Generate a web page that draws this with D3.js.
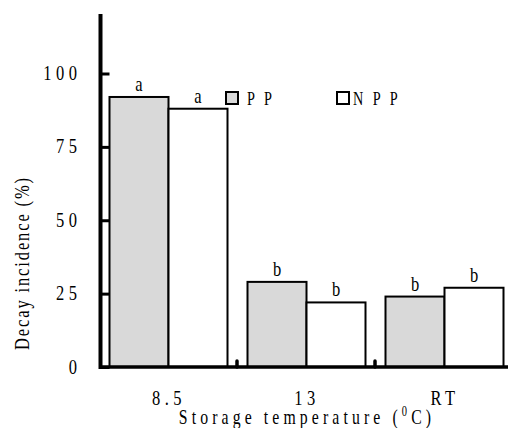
<!DOCTYPE html>
<html>
<head>
<meta charset="utf-8">
<script src="https://cdn.jsdelivr.net/npm/d3@7"></script>
<style>
  body { margin: 0; background: #fff; }
  svg { display: block; }
  text { font-family: "Liberation Serif", "Times New Roman", serif; fill: #000; }
</style>
</head>
<body>
<svg id="chart" width="508" height="428"></svg>
<script>
// data
var categories = ['8.5', '13', 'RT'];
var series = ['PP', 'NPP'];
var pp_values = [92, 29, 24];
var npp_values = [88, 22, 27];
var pp_letters = ['a', 'b', 'b'];
var npp_letters = ['a', 'b', 'b'];
var y_ticks = [0, 25, 50, 75, 100];

var fills = { PP: '#d9d9d9', NPP: '#ffffff' };
var sx = 0.75; // narrow Times look

var svg = d3.select('#chart');

let x0 = d3.scaleBand().domain(categories).range([100, 514]);
let x1 = d3.scaleBand().domain(series).range([9.5, 127.5]);
let y = d3.scaleLinear().domain([0, 100]).range([367, 73.5]);

let data = [];
categories.forEach(function(c, i) {
  data.push({ cat: c, s: 'PP', v: pp_values[i], letter: pp_letters[i] });
  data.push({ cat: c, s: 'NPP', v: npp_values[i], letter: npp_letters[i] });
});

// squeezed text helper
var put_text = function(g, x, y0, str, size, anchor, spacing) {
  return g.append('text')
    .attr('transform', 'translate(' + x + ',' + y0 + ') scale(' + sx + ',1)')
    .attr('text-anchor', anchor || 'start')
    .style('font-size', size + 'px')
    .style('letter-spacing', (spacing || 0) + 'px')
    .text(str);
};

// bars
svg.append('g').selectAll('rect')
  .data(data)
  .enter().append('rect')
    .attr('x', d => x0(d.cat) + x1(d.s))
    .attr('y', d => y(d.v))
    .attr('width', x1.bandwidth())
    .attr('height', d => y(0) - y(d.v))
    .attr('fill', d => fills[d.s])
    .attr('stroke', '#000')
    .attr('stroke-width', 2);

// significance letters
let lg = svg.append('g');
data.forEach(function(d) {
  put_text(lg, x0(d.cat) + x1(d.s) + x1.bandwidth() / 2, y(d.v) - 6, d.letter, 22, 'middle');
});

// y axis
let yAxis = d3.axisLeft(y)
  .tickValues(y_ticks)
  .tickSizeInner(-9)
  .tickSizeOuter(0)
  .tickFormat(d3.format('d'));
let yg = svg.append('g')
  .attr('transform', 'translate(100.5,0)')
  .call(yAxis);
yg.select('.domain').remove();
yg.selectAll('.tick line').attr('stroke', '#000').attr('stroke-width', 3).attr('x1', 0);
yg.selectAll('.tick text')
  .attr('x', null).attr('dy', null)
  .attr('transform', 'translate(-19,6) scale(' + sx + ',1)')
  .attr('text-anchor', 'end')
  .style('font-family', '"Liberation Serif", serif')
  .style('font-size', '22px')
  .style('letter-spacing', '6px');

svg.append('line')
  .attr('x1', 100.5).attr('x2', 100.5)
  .attr('y1', 14).attr('y2', y(0) + 2)
  .attr('stroke', '#000').attr('stroke-width', 4);

// x axis
let xAxis = d3.axisBottom(x0).tickSize(0).tickPadding(0);
let xg = svg.append('g')
  .attr('transform', 'translate(0,' + y(0) + ')')
  .call(xAxis);
xg.select('.domain').remove();
xg.selectAll('.tick text')
  .attr('y', null).attr('dy', null)
  .attr('transform', 'translate(0,38) scale(' + sx + ',1)')
  .style('font-family', '"Liberation Serif", serif')
  .style('font-size', '22px')
  .style('letter-spacing', '6px');

svg.append('line')
  .attr('x1', 100).attr('x2', 508)
  .attr('y1', y(0)).attr('y2', y(0))
  .attr('stroke', '#000').attr('stroke-width', 3.5);

// small separator marks between groups
svg.append('g').selectAll('line')
  .data(categories.slice(1))
  .enter().append('line')
    .attr('x1', d => x0(d) - 1).attr('x2', d => x0(d) - 1)
    .attr('y1', y(0) - 6).attr('y2', y(0))
    .attr('stroke', '#000').attr('stroke-width', 3.5)
    .attr('stroke-linecap', 'round');

// legend
let leg = svg.append('g');
let legend_x = { PP: 225, NPP: 336 };
let legend_gap = { PP: 22, NPP: 17 };
series.forEach(function(s) {
  leg.append('rect')
    .attr('x', legend_x[s] + 1).attr('y', 92)
    .attr('width', 12).attr('height', 12)
    .attr('fill', fills[s])
    .attr('stroke', '#000').attr('stroke-width', 2);
  put_text(leg, legend_x[s] + legend_gap[s], 105, s.split('').join(' '), 19, 'start', 4);
});

// axis titles
let xt = put_text(svg, 307, 424, 'Storage temperature (', 21, 'middle', 5.5);
xt.append('tspan').attr('baseline-shift', 'super').style('font-size', '14px').text('0');
xt.append('tspan').text('C)');

svg.append('text')
  .attr('transform', 'translate(29,263) rotate(-90) scale(' + sx + ',1)')
  .attr('text-anchor', 'middle')
  .style('font-size', '22px')
  .style('letter-spacing', '2.5px')
  .text('Decay incidence (%)');
</script>
</body>
</html>
